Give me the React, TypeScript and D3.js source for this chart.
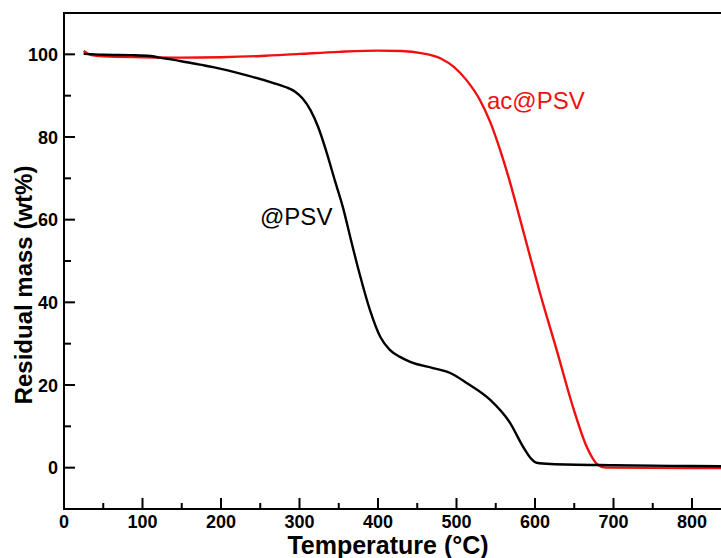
import React from "react";
import * as d3 from "d3";

const psvTemp = [25, 50, 88, 110, 122, 148, 173, 190, 233, 266, 282, 294, 304, 314, 324, 335, 345, 356, 365, 375, 390, 403, 415, 428, 441, 470, 492, 513, 543, 568, 585, 595, 602, 620, 700, 800, 900];
const psvMass = [100.1, 99.9, 99.8, 99.6, 99.2, 98.4, 97.5, 96.9, 94.9, 93.1, 92.1, 91, 89.3, 86.5, 82.3, 76, 69.5, 62.5, 55.5, 48, 38, 31.6, 28.5, 26.8, 25.6, 24.1, 22.9, 20.5, 16.4, 10.9, 5, 2.2, 1.2, 0.9, 0.6, 0.4, 0.3];

const acTemp = [25, 35, 50, 100, 150, 200, 250, 300, 350, 400, 430, 455, 480, 497, 513, 530, 543, 555, 567, 580, 593, 606, 628, 649, 666, 680, 690, 800, 900];
const acMass = [100.8, 99.8, 99.5, 99.3, 99.2, 99.3, 99.6, 100.1, 100.6, 100.9, 100.8, 100.3, 99, 96.9, 93.7, 88.9, 83.6, 77.2, 69.8, 60.8, 51.6, 42.5, 28.2, 14.3, 5, 0.7, 0, -0.1, -0.1];

const xMajor = [0, 100, 200, 300, 400, 500, 600, 700, 800];
const xMinor = [50, 150, 250, 350, 450, 550, 650, 750, 850];
const yMajor = [0, 20, 40, 60, 80, 100];
const yMinor = [-10, 10, 30, 50, 70, 90, 110];

const W = 721;
const H = 558;
const plotLeft = 64;
const plotTop = 13;
const plotBottom = 509;
const plotRight = 64 + 900 * 0.785;

const RED = "#f01010";
const FONT = "'Liberation Sans', Arial, sans-serif";

export default function App() {
  const x = d3.scaleLinear().domain([0, 900]).range([plotLeft, plotRight]);
  const y = d3.scaleLinear().domain([-10, 110]).range([plotBottom, plotTop]);
  const line = d3
    .line<[number, number]>()
    .x((d) => x(d[0]))
    .y((d) => y(d[1]))
    .curve(d3.curveMonotoneX);
  const psv = psvTemp.map((t, i) => [t, psvMass[i]] as [number, number]);
  const ac = acTemp.map((t, i) => [t, acMass[i]] as [number, number]);

  return (
    <svg
      width={W}
      height={H}
      style={{ position: "absolute", left: 0, top: 0, background: "#fff" }}
      fontFamily={FONT}
    >
      <rect x={0} y={0} width={W} height={H} fill="#fff" />
      <path d={line(ac) || ""} fill="none" stroke={RED} strokeWidth={2.4} />
      <path d={line(psv) || ""} fill="none" stroke="#000" strokeWidth={2.4} />

      <path
        d={`M${plotRight},${plotTop}H${plotLeft}V${plotBottom}H${plotRight}`}
        fill="none"
        stroke="#000"
        strokeWidth={2}
      />
      {xMajor.map((v) => (
        <rect key={"xt" + v} x={x(v) - 1} y={plotBottom - 11} width={2} height={11} fill="#000" />
      ))}
      {xMinor.map((v) => (
        <rect key={"xn" + v} x={x(v) - 1} y={plotBottom - 6} width={2} height={6} fill="#000" />
      ))}
      {yMajor.map((v) => (
        <rect key={"yt" + v} x={plotLeft} y={y(v) - 1} width={11} height={2} fill="#000" />
      ))}
      {yMinor.map((v) => (
        <rect key={"yn" + v} x={plotLeft} y={y(v) - 1} width={7} height={2} fill="#000" />
      ))}

      {xMajor.map((v) => (
        <text key={"xl" + v} x={x(v)} y={528} textAnchor="middle" fontSize={18} fontWeight="bold">
          {v}
        </text>
      ))}
      {yMajor.map((v) => (
        <text key={"yl" + v} x={58} y={y(v) + 6.5} textAnchor="end" fontSize={18} fontWeight="bold">
          {v}
        </text>
      ))}

      <text x={388} y={554} textAnchor="middle" fontSize={25} fontWeight="bold">
        Temperature (°C)
      </text>
      <text
        transform={`translate(32, 285) rotate(-90)`}
        textAnchor="middle"
        fontSize={24}
        fontWeight="bold"
      >
        Residual mass (wt%)
      </text>

      <text x={260} y={225} fontSize={24} fill="#000">
        @PSV
      </text>
      <text x={487} y={109} fontSize={24} fill={RED}>
        ac@PSV
      </text>
    </svg>
  );
}
